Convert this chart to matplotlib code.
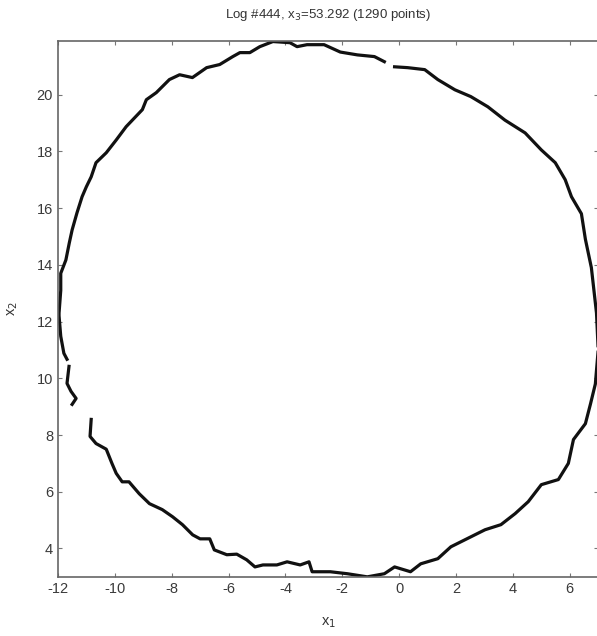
import numpy as np
import matplotlib.pyplot as plt

plt.rcParams['font.family'] = ['Liberation Sans', 'DejaVu Sans']
plt.rcParams['axes.unicode_minus'] = False

# ring traced clockwise from the lower-left gap; nan marks a break in the points
x1 = [-10.83, -10.87, -10.66, -10.3, -10.1, -9.95, -9.74, -9.5, -9.14, -8.78, -8.33, -7.97,
      -7.62, -7.26, -7.0, -6.66, -6.5, -6.06, -5.71, -5.36, -5.07, -4.79, -4.3, -3.94, -3.48,
      -3.17, -3.06, -2.42, -1.82, -1.12, -0.52, -0.16, 0.4, 0.76, 1.36, 1.82, 2.52, 3.02,
      3.58, 4.08, 4.54, 5.0, 5.6, 5.95, 6.13, 6.55, 6.73, 6.9, 7.0, 6.94, 6.76, 6.55, 6.41,
      6.06, 5.84, 5.49, 5.0, 4.43, 3.72, 3.12, 2.52, 1.96, 1.36, 0.9, 0.3, -0.16, np.nan,
      -0.52, -0.87, -1.47, -2.07, -2.64, -3.24, -3.59, -3.84, -4.44, -4.9, -5.25, -5.6,
      -5.85, -6.31, -6.77, -7.27, -7.72, -8.08, -8.54, -8.89, -9.03, -9.6, -9.95, -10.3,
      -10.66, -10.83, -11.0, -11.15, -11.33, -11.5, -11.6, -11.72, -11.9, -11.9, -11.96,
      -11.96, -11.9, -11.79, -11.68, np.nan, -11.61, -11.68, -11.54, -11.36, -11.5]
x2 = [8.55, 7.95, 7.7, 7.5, 7.0, 6.65, 6.35, 6.35, 5.93, 5.58, 5.37, 5.12,
      4.84, 4.48, 4.34, 4.34, 3.95, 3.78, 3.8, 3.6, 3.35, 3.42, 3.42, 3.53, 3.42,
      3.53, 3.18, 3.18, 3.11, 3.0, 3.11, 3.35, 3.18, 3.46, 3.64, 4.06, 4.41, 4.66,
      4.84, 5.23, 5.65, 6.25, 6.43, 7.0, 7.84, 8.4, 9.1, 9.8, 11.0, 12.3, 13.9, 14.9, 15.8,
      16.4, 17.0, 17.6, 18.05, 18.65, 19.1, 19.57, 19.93, 20.17, 20.53, 20.88, 20.95, 20.98, np.nan,
      21.16, 21.34, 21.4, 21.5, 21.76, 21.76, 21.69, 21.83, 21.87, 21.69, 21.48, 21.48,
      21.34, 21.06, 20.95, 20.6, 20.7, 20.53, 20.07, 19.82, 19.47, 18.87, 18.4, 17.95,
      17.6, 17.1, 16.75, 16.4, 15.83, 15.23, 14.77, 14.17, 13.7, 13.1, 12.3,
      12.2, 11.48, 10.88, 10.67, np.nan, 10.42, 9.82, 9.54, 9.29, 9.08]

xticks = [-12, -10, -8, -6, -4, -2, 0, 2, 4, 6]
yticks = [4, 6, 8, 10, 12, 14, 16, 18, 20]

fig = plt.figure(figsize=(5.97, 6.36), dpi=100)
ax = fig.add_axes([0.097, 0.093, 0.905, 0.843])
ax.plot(x1, x2, '-', color='#111111', lw=2.3)

ax.set_xlim(-12, 7)
ax.set_ylim(3, 21.9)
ax.set_xticks(xticks)
ax.set_yticks(yticks)
ax.tick_params(direction='in', length=3, labelsize=10.5, colors='#777777',
               labelcolor='#3a3a3a', top=True, right=True)
for s in ax.spines.values():
    s.set_color('#666666')
    s.set_linewidth(1.2)

ax.set_title('Log #444, x$_3$=53.292 (1290 points)', fontsize=9.5, color='#333333', pad=16)
ax.set_xlabel('x$_1$', fontsize=10.5, color='#333333', labelpad=14)
ax.set_ylabel('x$_2$', fontsize=10.5, color='#333333', labelpad=12)

fig.savefig('out.png', dpi=100)
